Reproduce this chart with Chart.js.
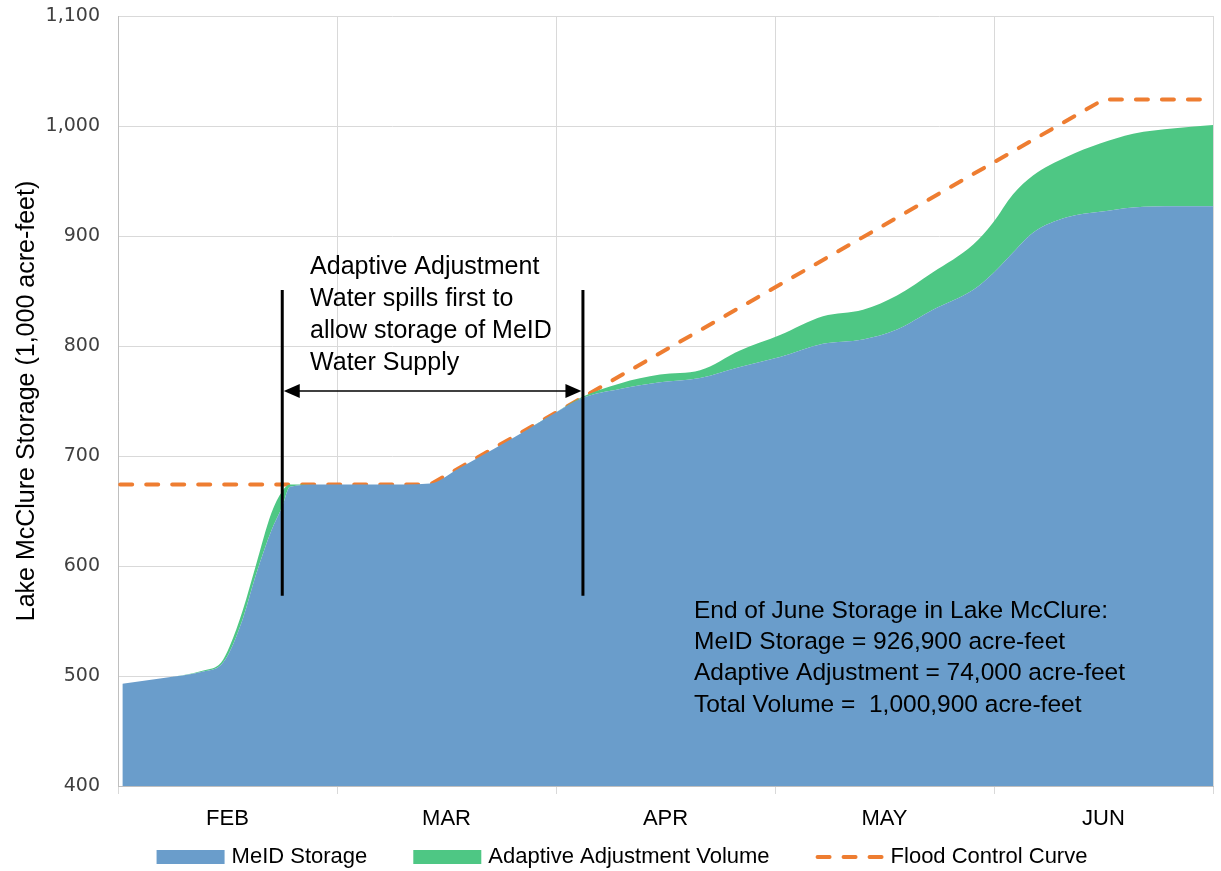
<!DOCTYPE html>
<html>
<head>
<meta charset="utf-8">
<script src="https://cdn.jsdelivr.net/npm/chart.js@4.4.1/dist/chart.umd.min.js"></script>
<style>
  html, body { margin: 0; padding: 0; background: #fff; }
  #wrap { width: 1221px; height: 871px; }
</style>
</head>
<body>
<div id="wrap"><canvas id="c" width="1221" height="871"></canvas></div>
<script>
// x runs in month units: 0 = start of FEB, 5 = end of JUN
const months = ['FEB', 'MAR', 'APR', 'MAY', 'JUN'];

const storageX = [0.02, 0.20, 0.39, 0.47, 0.51, 0.57, 0.63, 0.70, 0.75, 0.785, 0.92, 1.20,
  1.425, 1.55, 1.685, 1.835, 1.986, 2.123, 2.292, 2.475, 2.658, 2.84, 3.023, 3.219, 3.402,
  3.557, 3.721, 3.904, 3.995, 4.087, 4.178, 4.333, 4.484, 4.635, 4.826, 5.0];
// 1,000 acre-feet
const meidStorage = [493, 498, 504, 510, 522, 552, 592, 632, 654, 672, 674, 674,
  675, 688, 703, 720, 738, 753, 761, 767, 771, 781, 790, 802, 806,
  815, 833, 851, 866, 885, 903, 917, 922, 926, 927, 927];
const adaptiveVolume = [0, 0, 1, 2, 5, 8, 9, 16, 14, 2, 0, 0,
  0, 0, 0, 0, 0, 1, 5, 7, 7, 15, 20, 25, 27,
  31, 34, 41, 46, 53, 52, 55, 62, 67, 71, 74];

const floodX = [0.01, 1.425, 4.5, 5.0];
const floodCurve = [674, 674, 1024, 1024];

// annotation content
const spillLines = [0.75, 2.123];          // x of the two black markers
const noteText = ['Adaptive Adjustment', 'Water spills first to', 'allow storage of MeID', 'Water Supply'];
const summaryText = ['End of June Storage in Lake McClure:',
  'MeID Storage = 926,900 acre-feet',
  'Adaptive Adjustment = 74,000 acre-feet',
  'Total Volume =  1,000,900 acre-feet'];

const BLUE = '#6a9dcb', GREEN = '#4ec784', ORANGE = '#ee7d31';
const FONT = "'Liberation Sans', Arial, sans-serif";

const pts = (xs, ys) => xs.map((x, i) => ({ x, y: ys[i] }));

// ---- annotations: markers, arrow, texts ----
const notesPlugin = {
  id: 'notes',
  afterDatasetsDraw(chart) {
    const { ctx, scales: { x, y } } = chart;
    ctx.save();
    // black markers
    ctx.strokeStyle = '#000';
    ctx.lineWidth = 3;
    spillLines.forEach(v => {
      ctx.beginPath();
      ctx.moveTo(x.getPixelForValue(v), y.getPixelForValue(851));
      ctx.lineTo(x.getPixelForValue(v), y.getPixelForValue(573));
      ctx.stroke();
    });
    // double arrow
    const x1 = x.getPixelForValue(spillLines[0]) + 1.5;
    const x2 = x.getPixelForValue(spillLines[1]) - 1.5;
    const ya = y.getPixelForValue(759);
    ctx.lineWidth = 1.5;
    ctx.beginPath();
    ctx.moveTo(x1 + 10, ya); ctx.lineTo(x2 - 10, ya);
    ctx.stroke();
    ctx.fillStyle = '#000';
    ctx.beginPath();
    ctx.moveTo(x1, ya); ctx.lineTo(x1 + 16, ya - 7); ctx.lineTo(x1 + 16, ya + 7); ctx.closePath();
    ctx.fill();
    ctx.beginPath();
    ctx.moveTo(x2, ya); ctx.lineTo(x2 - 16, ya - 7); ctx.lineTo(x2 - 16, ya + 7); ctx.closePath();
    ctx.fill();

    // texts
    ctx.textBaseline = 'middle';
    ctx.textAlign = 'left';
    ctx.font = '25px ' + FONT;
    let tx = x.getPixelForValue(0.877), ty = y.getPixelForValue(872);
    noteText.forEach((s, i) => ctx.fillText(s, tx, ty + i * 32));
    tx = x.getPixelForValue(2.63); ty = y.getPixelForValue(559);
    ctx.font = '24.5px ' + FONT;
    summaryText.forEach((s, i) => ctx.fillText(s, tx, ty + i * 31.3));
    ctx.restore();
  },
  afterDraw(chart) {
    // legend row under the axis
    const { ctx } = chart;
    const items = chart.data.datasets;
    ctx.save();
    ctx.font = '22px ' + FONT;
    ctx.textBaseline = 'middle';
    const boxW = 68, gapText = 7, gapItem = 46;
    const widths = items.map(d => boxW + gapText + ctx.measureText(d.label).width);
    const total = widths.reduce((a, b) => a + b, 0) + gapItem * (items.length - 1);
    let lx = 622 - total / 2;
    const ly = 857;
    items.forEach((d, i) => {
      if (d.borderDash) {
        ctx.strokeStyle = d.borderColor;
        ctx.lineWidth = 4;
        ctx.lineCap = 'round';
        ctx.setLineDash(d.borderDash);
        ctx.beginPath();
        ctx.moveTo(lx + 2, ly); ctx.lineTo(lx + boxW, ly);
        ctx.stroke();
        ctx.setLineDash([]);
      } else {
        ctx.fillStyle = d.backgroundColor;
        ctx.fillRect(lx, ly - 7, boxW, 14);
      }
      ctx.fillStyle = '#000';
      ctx.fillText(d.label, lx + boxW + gapText, ly);
      lx += widths[i] + gapItem;
    });
    ctx.restore();
  }
};

Chart.defaults.font.family = FONT;
Chart.defaults.color = '#000';

new Chart(document.getElementById('c'), {
  type: 'line',
  data: {
    datasets: [
      {
        label: 'MeID Storage',
        data: pts(storageX, meidStorage),
        backgroundColor: BLUE,
        borderWidth: 0,
        pointRadius: 0,
        fill: 'start',
        cubicInterpolationMode: 'monotone',
        stack: 'storage'
      },
      {
        label: 'Adaptive Adjustment Volume',
        data: pts(storageX, adaptiveVolume),
        backgroundColor: GREEN,
        borderWidth: 0,
        pointRadius: 0,
        fill: '-1',
        cubicInterpolationMode: 'monotone',
        stack: 'storage'
      },
      {
        label: 'Flood Control Curve',
        data: pts(floodX, floodCurve),
        borderColor: ORANGE,
        borderWidth: 4,
        borderDash: [12, 14],
        borderCapStyle: 'round',
        pointRadius: 0,
        fill: false,
        tension: 0,
        stack: 'flood'
      }
    ]
  },
  options: {
    responsive: false,
    animation: false,
    layout: { padding: { top: 16, right: 8, bottom: 0, left: 0 } },
    plugins: { legend: { display: false }, tooltip: { enabled: false } },
    scales: {
      x: {
        type: 'linear',
        min: 0, max: 5,
        afterFit: s => { s.height = 85; s.paddingLeft = 0; s.paddingRight = 0; },
        afterBuildTicks: s => { s.ticks = []; for (let i = 0; i <= 10; i++) s.ticks.push({ value: i / 2 }); },
        ticks: {
          autoSkip: false, maxRotation: 0, padding: 12,
          font: { size: 22 },
          callback: v => Number.isInteger(v) ? '' : months[Math.floor(v)]
        },
        grid: {
          color: c => (c.tick && Number.isInteger(c.tick.value)) ? '#d9d9d9' : 'rgba(0,0,0,0)',
          tickLength: 8,
          lineWidth: 1
        },
        border: { color: '#bfbfbf' }
      },
      y: {
        stacked: true,
        min: 400, max: 1100,
        afterFit: s => { s.width = 118; s.paddingTop = 0; s.paddingBottom = 0; },
        ticks: {
          stepSize: 100, padding: 18,
          font: { family: "'DejaVu Sans', sans-serif", size: 19 },
          color: '#404040',
          callback: v => v.toLocaleString('en-US')
        },
        grid: { color: '#d9d9d9', drawTicks: false },
        border: { color: '#bfbfbf' },
        title: {
          display: true,
          text: 'Lake McClure Storage (1,000 acre-feet)',
          font: { size: 25 },
          padding: { top: 12, bottom: 0 }
        }
      }
    }
  },
  plugins: [notesPlugin]
});
</script>
</body>
</html>
